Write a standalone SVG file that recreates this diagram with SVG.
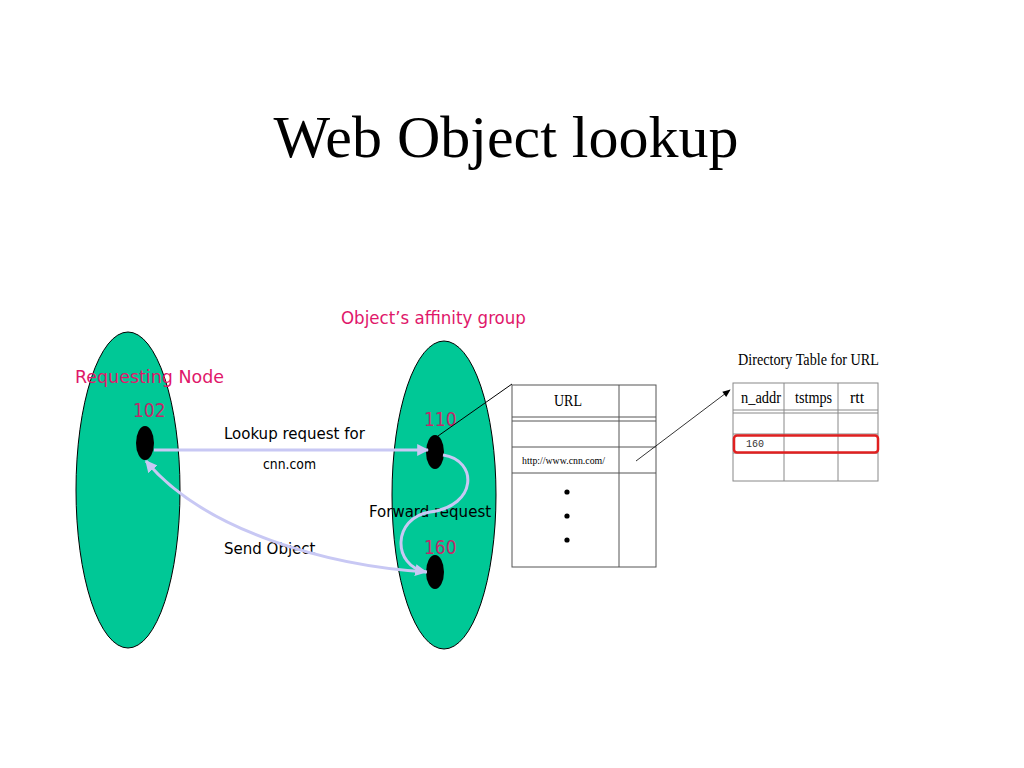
<svg xmlns="http://www.w3.org/2000/svg" width="1024" height="768" viewBox="0 0 1024 768">
<defs>
<style>
.grp{fill:#00C896;stroke:#000;stroke-width:1}
.dot{fill:#000}
.pink{font-family:"DejaVu Sans Condensed","DejaVu Sans",sans-serif;fill:#E0176A;font-size:18.5px}
.num{font-family:"DejaVu Sans Condensed","DejaVu Sans",sans-serif;fill:#C02A6A;font-size:19px}
.lbl{font-family:"DejaVu Sans Condensed","DejaVu Sans",sans-serif;fill:#000;font-size:16.7px}
.ser{font-family:"Liberation Serif",serif;fill:#000}
.tl{fill:none;stroke:#555;stroke-width:1}
.tg{fill:none;stroke:#888;stroke-width:1}
.flow{fill:none;stroke:#C8C8F4;stroke-width:3}
</style>
<marker id="ah" viewBox="0 0 10 10" refX="9" refY="5" markerWidth="4" markerHeight="4" orient="auto-start-reverse" markerUnits="strokeWidth">
<path d="M0,0 L10,5 L0,10 z" fill="#C8C8F4"/>
</marker>
<marker id="bh" viewBox="0 0 10 10" refX="9" refY="5" markerWidth="10" markerHeight="8" orient="auto" markerUnits="userSpaceOnUse">
<path d="M0,1 L10,5 L0,9 z" fill="#000"/>
</marker>
</defs>
<rect width="1024" height="768" fill="#fff"/>
<text class="ser" x="506" y="157" font-size="60" text-anchor="middle">Web Object lookup</text>

<g id="requesting-group">
<ellipse class="grp" cx="128" cy="490" rx="52" ry="158"/>
<text class="pink" x="75" y="383" textLength="149" lengthAdjust="spacingAndGlyphs">Requesting Node</text>
</g>
<g id="affinity-group">
<ellipse class="grp" cx="444" cy="495" rx="52" ry="154"/>
<text class="pink" x="341" y="324">Object’s affinity group</text>
</g>

<g id="labels">
<text class="lbl" x="224" y="439">Lookup request for</text>
<text class="lbl" x="263" y="469" style="font-size:13.8px">cnn.com</text>
<text class="lbl" x="369" y="517">Forward request</text>
<text class="lbl" x="224" y="554">Send Object</text>
</g>

<g id="node-102">
<ellipse class="dot" cx="145" cy="443" rx="9" ry="17"/>
<text class="num" x="133" y="417">102</text>
</g>
<g id="node-110">
<ellipse class="dot" cx="435" cy="452" rx="9" ry="17"/>
<text class="num" x="424" y="426">110</text>
</g>
<g id="node-160">
<ellipse class="dot" cx="435" cy="572" rx="9" ry="17"/>
<text class="num" x="424" y="554">160</text>
</g>

<g id="url-table">
<rect x="512" y="385" width="144" height="182" fill="#fff" stroke="#555" stroke-width="1"/>
<line class="tl" x1="619" y1="385" x2="619" y2="567"/>
<line class="tl" x1="512" y1="417" x2="656" y2="417"/>
<line class="tl" x1="512" y1="421" x2="656" y2="421"/>
<line class="tl" x1="512" y1="447" x2="656" y2="447"/>
<line class="tl" x1="512" y1="473" x2="656" y2="473"/>
<text class="ser" x="568" y="406" font-size="17" text-anchor="middle" textLength="28" lengthAdjust="spacingAndGlyphs">URL</text>
<text class="ser" x="522" y="464" font-size="10" textLength="83" lengthAdjust="spacingAndGlyphs">http://www.cnn.com/</text>
<circle cx="567" cy="492" r="2.6" fill="#000"/>
<circle cx="567" cy="516" r="2.6" fill="#000"/>
<circle cx="567" cy="540" r="2.6" fill="#000"/>
</g>

<g id="directory-table">
<text class="ser" x="738" y="365" font-size="16" textLength="141" lengthAdjust="spacingAndGlyphs">Directory Table for URL</text>
<rect x="733" y="383" width="145" height="98" fill="#fff" stroke="#888" stroke-width="1"/>
<line class="tg" x1="784" y1="383" x2="784" y2="481"/>
<line class="tg" x1="838" y1="383" x2="838" y2="481"/>
<line class="tg" x1="733" y1="410" x2="878" y2="410"/>
<line class="tg" x1="733" y1="413" x2="878" y2="413"/>
<line class="tg" x1="733" y1="434" x2="878" y2="434"/>
<line class="tg" x1="733" y1="453" x2="878" y2="453"/>
<text class="ser" x="741" y="403" font-size="16" textLength="40" lengthAdjust="spacingAndGlyphs">n_addr</text>
<text class="ser" x="795" y="403" font-size="16" textLength="37" lengthAdjust="spacingAndGlyphs">tstmps</text>
<text class="ser" x="857" y="403" font-size="16" text-anchor="middle">rtt</text>
<rect x="734" y="435.5" width="144" height="17" rx="3" fill="none" stroke="#E02020" stroke-width="2.5"/>
<text x="746" y="447" font-family="Liberation Mono,monospace" font-size="10" fill="#333">160</text>
</g>

<g id="connectors">
<path class="flow" d="M154,450 L428,450" marker-end="url(#ah)"/>
<path class="flow" d="M443,455 C478,460 478,506 430,512 C392,518 392,566 426,572" marker-end="url(#ah)"/>
<path class="flow" d="M427,572 C330,566 205,532 146,461" marker-end="url(#ah)"/>
<path d="M438,436 L512,384" stroke="#000" stroke-width="1" fill="none"/>
<path d="M636,461 L730,390" stroke="#000" stroke-width="0.8" fill="none" marker-end="url(#bh)"/>
</g>
</svg>
